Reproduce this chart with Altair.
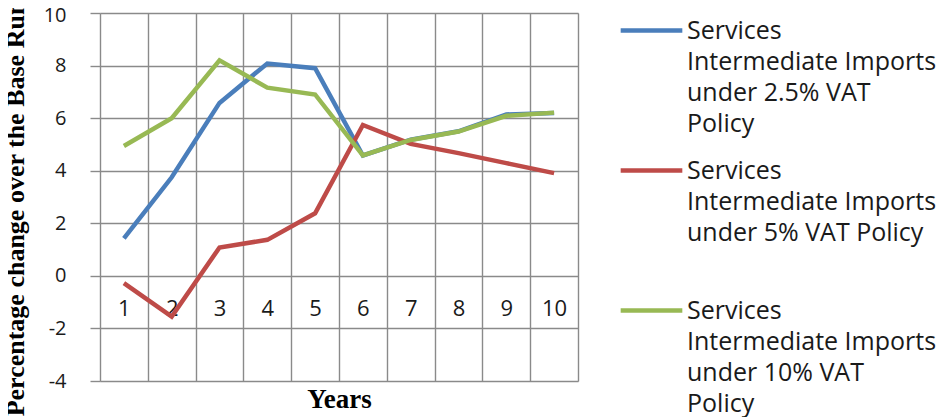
import altair as alt
import pandas as pd

years = [1, 2, 3, 4, 5, 6, 7, 8, 9, 10]
vat_2_5 = [1.43, 3.75, 6.58, 8.08, 7.9, 4.58, 5.18, 5.5, 6.14, 6.2]
vat_5 = [-0.28, -1.55, 1.08, 1.37, 2.38, 5.74, 5.02, 4.67, 4.29, 3.91]
vat_10 = [4.94, 6.0, 8.2, 7.16, 6.9, 4.58, 5.17, 5.49, 6.09, 6.21]

series_names = [
    "Services|Intermediate Imports|under 2.5% VAT|Policy",
    "Services|Intermediate Imports|under 5% VAT Policy|\u00a0",
    "Services|Intermediate Imports|under 10% VAT|Policy",
]
colors = ["#4A7EBB", "#BE4B48", "#98B954"]
y_ticks = [-4, -2, 0, 2, 4, 6, 8, 10]
boundaries = [y - 0.5 for y in years] + [years[-1] + 0.5]

rows = []
for name, vals in zip(series_names, [vat_2_5, vat_5, vat_10]):
    for yr, v in zip(years, vals):
        rows.append({"Year": yr, "Value": v, "Series": name})
df = pd.DataFrame(rows)

xscale = alt.Scale(domain=[0.5, 10.5], nice=False, zero=False)
yscale = alt.Scale(domain=[-4, 10], nice=False)

yaxis = alt.Axis(
    values=y_ticks, grid=True, gridColor="#8a8a8a", gridWidth=1.4,
    domain=False, ticks=True, tickSize=10, tickColor="#8a8a8a", tickWidth=1.4,
    labelExpr="'' + datum.value",
    labelFont="Open Sans", labelFontSize=20, labelColor="#1a1a1a", labelPadding=24,
    labelOffset={"condition": {"test": "datum.value == 10", "value": 2}, "value": 0},
    title="Percentage change over the Base Run", titleFont="Liberation Serif",
    titleFontSize=26, titleFontWeight="bold", titleColor="#000000",
    titleX=-72, titleY=195,
)

lines = alt.Chart(df).mark_line(strokeWidth=4.5).encode(
    x=alt.X("Year:Q", scale=xscale, axis=alt.Axis(
        orient="bottom", values=years, grid=False, domain=False, ticks=False,
        offset=-105, labelFont="Open Sans", labelFontSize=22, labelColor="#1a1a1a",
        labelPadding=22, labelFlush=False,
        title="Years", titleFont="Liberation Serif", titleFontSize=27,
        titleFontWeight="bold", titleColor="#000000", titlePadding=67,
    )),
    y=alt.Y("Value:Q", scale=yscale, axis=yaxis),
    color=alt.Color("Series:N", sort=series_names,
                    scale=alt.Scale(domain=series_names, range=colors),
                    legend=alt.Legend(
                        title=None, orient="none", legendX=518, legendY=-16,
                        symbolType="stroke", symbolStrokeWidth=4.5, symbolSize=3800,
                        labelExpr="split(datum.label, '|')",
                        labelFont="Open Sans", labelFontSize=25, labelColor="#1a1a1a",
                        labelLimit=400, rowPadding=0,
                        labelOffset=2, labelBaseline="middle",
                    )),
    order=alt.Order("Year:Q"),
)

grid = alt.Chart(df).mark_point(opacity=0).encode(
    x=alt.X("Year:Q", scale=xscale, axis=alt.Axis(
        orient="bottom", values=boundaries, grid=True, gridColor="#8a8a8a",
        gridWidth=1.4, labels=False, ticks=False, domain=False, title=None,
    )),
    y=alt.Y("Value:Q", scale=yscale),
)

chart = alt.layer(grid, lines).resolve_axis(x="independent").properties(
    width=478, height=368,
    autosize=alt.AutoSizeParams(type="none"),
    padding={"left": 92, "top": 5, "right": 359, "bottom": 44},
).configure_view(stroke=None).configure(style={"guide-label": {"lineHeight": 31}})

chart.save("out.html", embed_options={"renderer": "svg", "actions": False})
